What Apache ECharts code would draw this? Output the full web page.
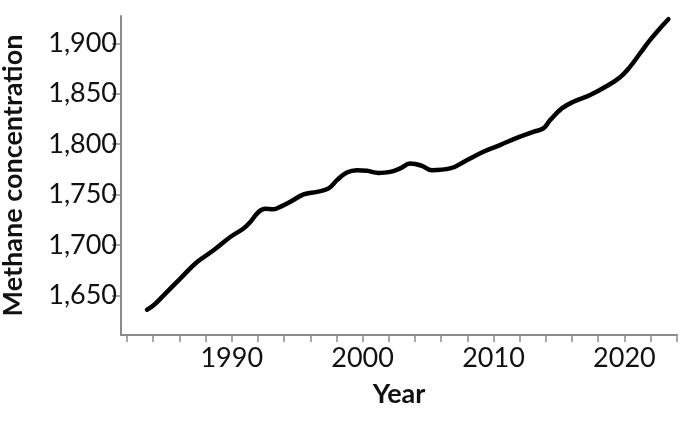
<!DOCTYPE html>
<html>
<head>
<meta charset="utf-8">
<script src="https://cdn.jsdelivr.net/npm/echarts@6/dist/echarts.min.js"></script>
<style>
  html, body { margin: 0; padding: 0; background: #fff; }
  #demo { width: 680px; height: 423px; }
</style>
</head>
<body>
<div id="demo"></div>
<script>
// 数据
var years = [
    1983.53, 1984.03, 1984.80, 1986.07, 1987.35, 1988.61, 1989.89, 1990.90, 1991.42, 1992.05,
    1992.56, 1993.19, 1993.70, 1994.47, 1995.49, 1996.51, 1997.40, 1998.04, 1998.80, 1999.56,
    2000.33, 2001.21, 2002.11, 2002.87, 2003.63, 2004.53, 2005.29, 2006.69, 2007.96, 2009.23,
    2010.50, 2011.78, 2013.05, 2013.81, 2014.33, 2015.22, 2016.11, 2017.38, 2018.66, 2019.67,
    2020.44, 2021.20, 2021.97, 2022.73, 2023.36
];
var methane = [
    1636.1, 1640.4, 1650.3, 1666.9, 1683.3, 1694.9, 1708.1, 1716.5, 1723.0, 1732.9,
    1736.0, 1735.6, 1737.9, 1742.9, 1750.2, 1752.8, 1756.2, 1764.4, 1772.0, 1774.3,
    1773.6, 1771.6, 1772.6, 1776.0, 1780.8, 1778.6, 1774.3, 1776.0, 1784.2, 1792.5,
    1799.1, 1806.3, 1812.3, 1815.7, 1823.9, 1835.5, 1842.1, 1848.7, 1857.6, 1866.3,
    1876.8, 1890.1, 1903.3, 1914.9, 1923.8
];
var xTicks = [1982, 1984, 1986, 1988, 1990, 1992, 1994, 1996, 1998, 2000, 2002, 2004,
              2006, 2008, 2010, 2012, 2014, 2016, 2018, 2020, 2022, 2024];
var xLabels = [1990, 2000, 2010, 2020];
var yTicks = [1650, 1700, 1750, 1800, 1850, 1900];

var basedata = {
    dom: document.getElementById('demo'),
    chart: null
};

var init_application = function () {
    var points = years.map(function (y, i) { return [y, methane[i]]; });
    var axisGrey = '#8a8a8a';
    var font = 'Lato';

    basedata.chart = echarts.init(basedata.dom, null, { renderer: 'canvas' });
    basedata.chart.setOption({
        animation: false,
        grid: { left: 121, right: 3, top: 16, bottom: 88, containLabel: false, outerBoundsMode: 'none' },
        xAxis: {
            type: 'value',
            min: 1981.54,
            max: 2024.02,
            name: 'Year',
            nameLocation: 'middle',
            nameGap: 46,
            nameTextStyle: { fontFamily: font, fontWeight: 'bold', fontSize: 27, color: '#111' },
            axisLine: { show: true, lineStyle: { color: axisGrey, width: 2 } },
            axisTick: { show: true, length: 7, customValues: xTicks, lineStyle: { color: axisGrey, width: 1.5 } },
            axisLabel: {
                customValues: xLabels, margin: 10,
                fontFamily: font, fontSize: 27, color: '#111',
                formatter: function (v) { return String(v); }
            },
            splitLine: { show: false }
        },
        yAxis: {
            type: 'value',
            min: 1611,
            max: 1927,
            name: 'Methane concentration',
            nameLocation: 'middle',
            nameGap: 94,
            nameTextStyle: { fontFamily: font, fontWeight: 'bold', fontSize: 27, color: '#111' },
            axisLine: { show: true, lineStyle: { color: axisGrey, width: 2 } },
            axisTick: { show: true, length: 9, customValues: yTicks, lineStyle: { color: axisGrey, width: 1.5 } },
            axisLabel: {
                customValues: yTicks, margin: 4,
                fontFamily: font, fontSize: 27, color: '#111',
                formatter: function (v) { return v.toLocaleString('en-US'); }
            },
            splitLine: { show: false }
        },
        series: [{
            type: 'line',
            data: points,
            smooth: 0.4,
            showSymbol: false,
            lineStyle: { color: '#000', width: 4.5, cap: 'round', join: 'round' }
        }]
    });
};

init_application();
</script>
</body>
</html>
